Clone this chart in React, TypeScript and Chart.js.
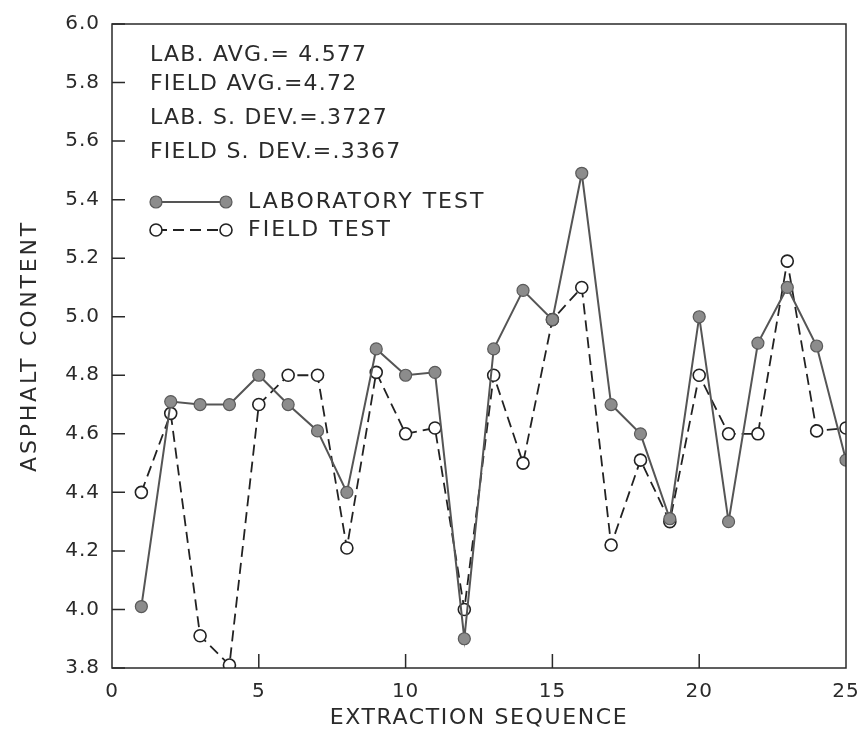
import React, { useEffect, useRef } from "react";
import { Chart, registerables } from "chart.js";

Chart.register(...registerables);

const sequence = [1, 2, 3, 4, 5, 6, 7, 8, 9, 10, 11, 12, 13, 14, 15, 16, 17, 18, 19, 20, 21, 22, 23, 24, 25];
const labValues = [4.01, 4.71, 4.70, 4.70, 4.80, 4.70, 4.61, 4.40, 4.89, 4.80, 4.81, 3.90, 4.89, 5.09, 4.99, 5.49, 4.70, 4.60, 4.31, 5.00, 4.30, 4.91, 5.10, 4.90, 4.51];
const fieldValues = [4.40, 4.67, 3.91, 3.81, 4.70, 4.80, 4.80, 4.21, 4.81, 4.60, 4.62, 4.00, 4.80, 4.50, 4.99, 5.10, 4.22, 4.51, 4.30, 4.80, 4.60, 4.60, 5.19, 4.61, 4.62];
const yTicks = [3.8, 4.0, 4.2, 4.4, 4.6, 4.8, 5.0, 5.2, 5.4, 5.6, 5.8, 6.0];
const xTicks = [0, 5, 10, 15, 20, 25];
const statLines = ["LAB. AVG.= 4.577", "FIELD AVG.=4.72", "LAB. S. DEV.=.3727", "FIELD S. DEV.=.3367"];
const seriesNames = ["LABORATORY TEST", "FIELD TEST"];
const xTitle = "EXTRACTION SEQUENCE";
const yTitle = "ASPHALT CONTENT";

const INK = "#2a2a2a";
const FONT = '"DejaVu Sans", sans-serif';

export default function App() {
  const ref = useRef<HTMLCanvasElement | null>(null);

  useEffect(() => {
    document.body.style.margin = "0";
    const canvas = ref.current;
    if (!canvas) return;

    const decor = {
      id: "decor",
      beforeDraw(chart: any) {
        const ctx = chart.ctx;
        ctx.save();
        ctx.fillStyle = "#ffffff";
        ctx.fillRect(0, 0, chart.width, chart.height);
        ctx.restore();
        ctx.letterSpacing = "1px";
      },
      afterDraw(chart: any) {
        const ctx = chart.ctx;
        const a = chart.chartArea;
        const xs = chart.scales.x;
        const ys = chart.scales.y;
        ctx.save();
        ctx.letterSpacing = "0px";
        // frame
        ctx.strokeStyle = INK;
        ctx.lineWidth = 1.5;
        ctx.strokeRect(a.left, a.top, a.right - a.left, a.bottom - a.top);
        // inward ticks
        ctx.lineWidth = 1.5;
        ctx.beginPath();
        yTicks.forEach((v) => {
          const y = ys.getPixelForValue(v);
          ctx.moveTo(a.left, y);
          ctx.lineTo(a.left + 13, y);
        });
        xTicks.forEach((v) => {
          if (v === 0 || v === 25) return;
          const x = xs.getPixelForValue(v);
          ctx.moveTo(x, a.bottom);
          ctx.lineTo(x, a.bottom - 14);
        });
        ctx.stroke();

        ctx.fillStyle = INK;
        ctx.textBaseline = "middle";
        // stats
        ctx.font = `22px ${FONT}`;
        ctx.letterSpacing = "1.2px";
        ctx.textAlign = "left";
        const statY = [55, 84, 118, 152];
        statLines.forEach((t, i) => ctx.fillText(t, 150, statY[i]));

        // legend
        const ds = chart.data.datasets;
        const legY = [202, 230];
        for (let i = 0; i < 2; i++) {
          const d = ds[i];
          const y = legY[i];
          ctx.save();
          ctx.strokeStyle = d.borderColor;
          ctx.lineWidth = d.borderWidth;
          ctx.setLineDash(d.borderDash || []);
          ctx.beginPath();
          ctx.moveTo(156, y);
          ctx.lineTo(226, y);
          ctx.stroke();
          ctx.setLineDash([]);
          [156, 226].forEach((x) => {
            ctx.beginPath();
            ctx.arc(x, y, d.pointRadius, 0, Math.PI * 2);
            ctx.fillStyle = d.pointBackgroundColor;
            ctx.fill();
            ctx.lineWidth = d.pointBorderWidth;
            ctx.strokeStyle = d.pointBorderColor;
            ctx.stroke();
          });
          ctx.restore();
          ctx.fillStyle = INK;
          ctx.font = `22px ${FONT}`;
          ctx.letterSpacing = "2px";
          ctx.textAlign = "left";
          ctx.fillText(seriesNames[i], 248, y);
        }

        // axis titles
        ctx.font = `22px ${FONT}`;
        ctx.letterSpacing = "1.6px";
        ctx.textAlign = "center";
        ctx.fillText(xTitle, (a.left + a.right) / 2, 718);
        ctx.save();
        ctx.translate(30, (a.top + a.bottom) / 2);
        ctx.rotate(-Math.PI / 2);
        ctx.letterSpacing = "2.8px";
        ctx.fillText(yTitle, 0, 0);
        ctx.restore();
        ctx.restore();
      },
    };

    const chart = new Chart(canvas, {
      type: "line",
      data: {
        datasets: [
          {
            label: seriesNames[0],
            data: sequence.map((x, i) => ({ x, y: labValues[i] })),
            borderColor: "#555555",
            borderWidth: 2,
            pointRadius: 6,
            pointBackgroundColor: "#8c8c8c",
            pointBorderColor: "#5a5a5a",
            pointBorderWidth: 1.2,
            tension: 0,
            order: 0,
          },
          {
            label: seriesNames[1],
            data: sequence.map((x, i) => ({ x, y: fieldValues[i] })),
            borderColor: "#222222",
            borderWidth: 1.8,
            borderDash: [11, 6],
            pointRadius: 6,
            pointBackgroundColor: "#ffffff",
            pointBorderColor: "#222222",
            pointBorderWidth: 1.6,
            tension: 0,
            order: 1,
          },
        ],
      },
      options: {
        animation: false,
        responsive: false,
        devicePixelRatio: 1,
        layout: { padding: { top: 20, right: 19, left: 0, bottom: 0 } },
        plugins: { legend: { display: false }, tooltip: { enabled: false } },
        scales: {
          x: {
            type: "linear",
            min: 0,
            max: 25,
            afterFit: (s: any) => {
              s.height = 70;
              s.paddingLeft = 0;
              s.paddingRight = 0;
            },
            afterBuildTicks: (s: any) => {
              s.ticks = xTicks.map((v) => ({ value: v }));
            },
            grid: { display: false, drawTicks: false },
            border: { display: false },
            ticks: {
              padding: 12,
              color: INK,
              font: { family: FONT, size: 20 },
              maxRotation: 0,
              callback: (v: any) => String(v),
            },
          },
          y: {
            type: "linear",
            min: 3.8,
            max: 6.0,
            afterFit: (s: any) => {
              s.width = 112;
            },
            afterBuildTicks: (s: any) => {
              s.ticks = yTicks.map((v) => ({ value: v }));
            },
            grid: { display: false, drawTicks: false },
            border: { display: false },
            ticks: {
              padding: 12,
              color: INK,
              font: { family: FONT, size: 20 },
              callback: (v: any) => Number(v).toFixed(1),
            },
          },
        },
      },
      plugins: [decor],
    });
    return () => chart.destroy();
  }, []);

  return (
    <div style={{ width: 865, height: 738 }}>
      <canvas ref={ref} width={865} height={738} style={{ width: 865, height: 738, display: "block" }} />
    </div>
  );
}
